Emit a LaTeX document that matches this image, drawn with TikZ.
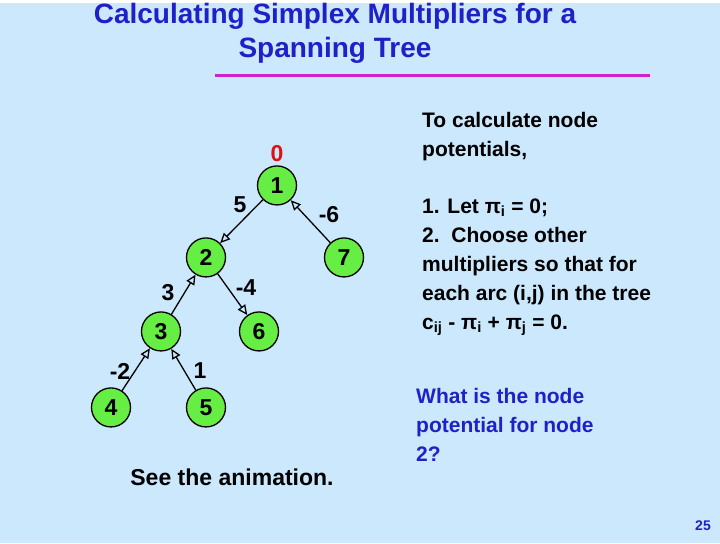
\documentclass[tikz,border=0pt]{standalone}
\usepackage{fontspec}
\setmainfont{Liberation Sans}
\usetikzlibrary{arrows.meta}
\definecolor{bg}{HTML}{CCE8FC}
\definecolor{tt}{HTML}{2020C8}
\definecolor{nd}{HTML}{66EE44}
\definecolor{ln}{HTML}{CC22CC}
\definecolor{rd}{HTML}{DD1111}
\tikzset{
 tn/.style={circle,draw,line width=1.3pt,fill=nd,minimum size=39pt,inner sep=0pt,font=\fontsize{23}{23}\selectfont\bfseries},
 arc/.style={line width=1.3pt,-{Triangle[open,length=10pt,width=9pt]}},
 lb/.style={font=\fontsize{23}{23}\selectfont\bfseries},
 tx/.style={font=\fontsize{21}{28.8}\selectfont\bfseries,align=left,anchor=north west,inner sep=0pt}
}
\begin{document}
\begin{tikzpicture}[x=1pt,y=-1pt]
\fill[bg] (0,0) rectangle (720,540);
\node[font=\fontsize{28}{34}\selectfont\bfseries,text=tt,align=center] (title) at (335,30) {Calculating Simplex Multipliers for a\\Spanning Tree};
\draw[ln,line width=3.5pt] (215,72) -- (650,72);
\node[tn] (n1) at (277,182) {1};
\node[tn] (n2) at (206,254) {2};
\node[tn] (n7) at (344,254) {7};
\node[tn] (n3) at (161,328) {3};
\node[tn] (n6) at (259,328) {6};
\node[tn] (n4) at (111,404) {4};
\node[tn] (n5) at (206,404) {5};
\draw[arc] (n1) -- (n2);
\draw[arc] (n7) -- (n1);
\draw[arc] (n3) -- (n2);
\draw[arc] (n2) -- (n6);
\draw[arc] (n4) -- (n3);
\draw[arc] (n5) -- (n3);
\node[lb,text=rd] (p1) at (277,150) {0};
\node[lb] (l12) at (240,201) {5};
\node[lb] (l71) at (329,211) {-6};
\node[lb] (l32) at (168,289) {3};
\node[lb] (l26) at (246,284) {-4};
\node[lb] (l43) at (120,368) {-2};
\node[lb] (l53) at (200,367) {1};
\node[lb] (anim) at (232,474) {See the animation.};
\node[tx] (t1) at (422,109) {To calculate node\\potentials,};
\node[tx] (t2) at (422,195) {1. Let π\textsubscript{i} = 0;};
\node[tx] (t3) at (422,224) {2.\ \ Choose other\\multipliers so that for\\each arc (i,j) in the tree\\c\textsubscript{ij} - π\textsubscript{i} + π\textsubscript{j} = 0.};
\node[tx,text=tt] (t4) at (416,385) {What is the node\\potential for node\\2?};
\node[font=\fontsize{14}{14}\selectfont\bfseries,text=tt] (pg) at (703,522) {25};
\end{tikzpicture}
\end{document}
